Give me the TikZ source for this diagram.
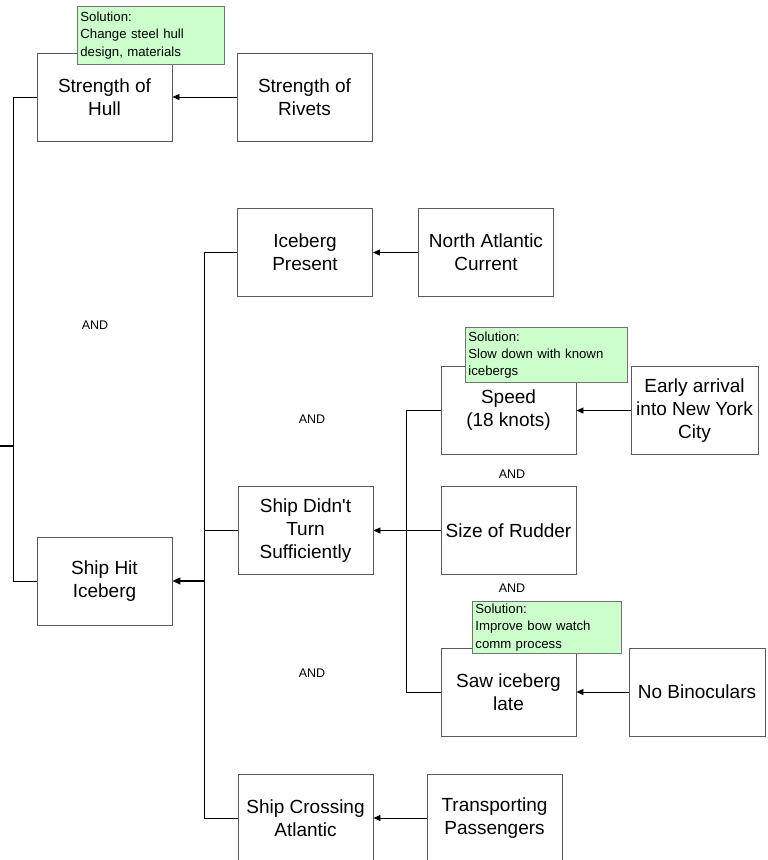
\documentclass[tikz,border=0pt]{standalone}
\usepackage{fontspec}
\setmainfont{Liberation Sans}
\usetikzlibrary{arrows.meta}
\definecolor{solgreen}{HTML}{CCFFCC}
\begin{document}
\begin{tikzpicture}[x=1pt,y=-1pt,
  box/.style={draw=black!65,line width=0.9pt,minimum width=135pt,minimum height=88pt,inner sep=2pt,align=center,font=\fontsize{19}{23}\selectfont},
  sol/.style={draw=black!55,fill=solgreen,line width=0.8pt,anchor=north west,inner xsep=3pt,inner ysep=0pt,align=left,font=\fontsize{13.2}{17.3}\selectfont},
  andlbl/.style={font=\fontsize{12.5}{14}\selectfont},
  conn/.style={line width=0.9pt},
  arr/.style={conn,-{Triangle[length=7pt,width=6pt]}}]
\clip (0,0) rectangle (768,860);
\fill[white] (0,0) rectangle (768,860);
% boxes
\node[box] (hull) at (104.5,97) {Strength of\\Hull};
\node[box] (rivets) at (304.5,97) {Strength of\\Rivets};
\node[box] (hit) at (104.5,581) {Ship Hit\\Iceberg};
\node[box] (present) at (305,252.5) {Iceberg\\Present};
\node[box] (current) at (486,252.5) {North Atlantic\\Current};
\node[box] (turn) at (305.5,530.5) {Ship Didn\textquotesingle t\\Turn\\Sufficiently};
\node[box] (crossing) at (305.5,818) {Ship Crossing\\Atlantic};
\node[box] (transport) at (494.5,818) {Transporting\\Passengers};
\node[box] (speed) at (508.5,410.5) {Speed\\(18 knots)};
\node[box,minimum width=127pt] (early) at (694.5,410.5) {Early arrival\\into New York\\City};
\node[box] (rudder) at (508.5,530.5) {Size of Rudder};
\node[box] (saw) at (508.5,692) {Saw iceberg\\late};
\node[box,minimum width=136pt] (binoc) at (697,692) {No Binoculars};
% connectors
\coordinate (lstub) at (0,446);
\coordinate (lspine) at (14,446);
\draw[conn] (hull.west) -- ++(-23,0) |- (hit.west);
\draw[conn,line width=1.3pt] (lstub) -- (lspine);
\draw[conn] (present.west) -- ++(-32.5,0) |- (crossing.west);
\draw[conn] (turn.west) -- ++(-33.5,0);
\coordinate (mjoin) at (205,581);
\draw[conn,line width=1.4pt,-{Triangle[length=8pt,width=7pt]}] (mjoin) -- (hit.east);
\draw[conn] (speed.west) -- ++(-34,0) |- (saw.west);
\draw[arr] (rivets.west) -- (hull.east);
\draw[arr] (current.west) -- (present.east);
\draw[arr] (early.west) -- (speed.east);
\draw[arr] (rudder.west) -- (turn.east);
\draw[arr] (binoc.west) -- (saw.east);
\draw[arr] (transport.west) -- (crossing.east);
% AND labels
\node[andlbl] (and1) at (95,325) {AND};
\node[andlbl] (and2) at (312,419) {AND};
\node[andlbl] (and3) at (312,673) {AND};
\node[andlbl] (and4) at (512,474) {AND};
\node[andlbl] (and5) at (512,588) {AND};
% solutions
\node[sol,text width=141pt,minimum height=58pt] (sol1) at (77,6) {Solution:\\Change steel hull\\design, materials};
\node[sol,text width=156pt,minimum height=55pt] (sol2) at (465,327) {Solution:\\Slow down with known\\icebergs};
\node[sol,text width=143pt,minimum height=52pt] (sol3) at (472,601) {Solution:\\Improve bow watch\\comm process};
\end{tikzpicture}
\end{document}
